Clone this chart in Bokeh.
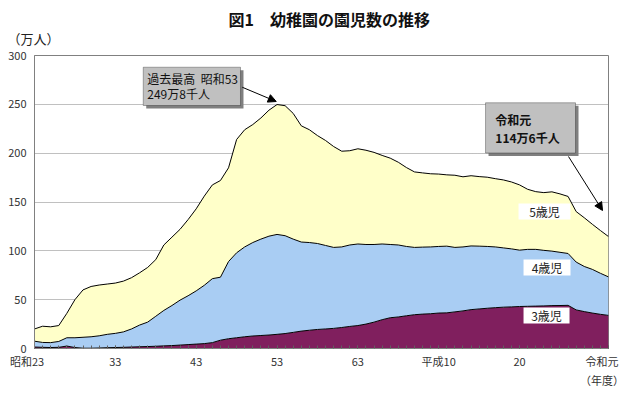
from bokeh.plotting import figure
from bokeh.models import (ColumnDataSource, Range1d, FixedTicker, BoxAnnotation,
                          Label, Arrow, NormalHead, Title)
from bokeh.embed import file_html
from bokeh.resources import INLINE

# ---- data (万人) ----
years = list(range(1948, 2020))
age3 = [1.5, 1.2, 1.0, 1.2, 2.5, 1.0, 0.3, 0.3, 0.5, 0.8,
        1.0, 1.2, 1.5, 1.8, 2.0, 2.3, 2.7, 3.0, 3.5, 4.0,
        4.5, 5.0, 6.0, 8.5, 10.0, 11.0, 12.0, 12.8, 13.3, 13.8,
        14.5, 15.3, 16.5, 17.8, 18.7, 19.5, 20.0, 20.6, 21.5, 22.6,
        23.5, 25.0, 27.0, 29.5, 31.5, 32.3, 33.5, 34.6, 35.2, 35.6,
        36.3, 36.5, 37.5, 38.5, 39.8, 40.5, 41.2, 41.8, 42.3, 42.6,
        43.0, 43.2, 43.4, 43.6, 43.9, 44.0, 44.2, 39.5, 37.8, 36.3,
        35.0, 33.9]
age4 = [6.0, 5.0, 5.0, 6.0, 8.5, 10.0, 11.2, 11.7, 12.5, 13.7,
        14.5, 15.8, 18.5, 22.2, 25.0, 30.7, 36.3, 41.0, 46.0, 50.0,
        54.5, 59.7, 65.5, 64.5, 79.0, 87.0, 92.0, 95.7, 98.7, 101.2,
        102.3, 100.2, 95.5, 91.2, 89.8, 88.0, 85.5, 82.9, 82.5, 83.4,
        83.5, 81.5, 79.5, 77.5, 75.0, 73.7, 71.0, 68.9, 68.6, 68.4,
        68.2, 68.3, 66.0, 65.5, 65.2, 64.3, 63.3, 62.2, 60.7, 59.4,
        57.7, 58.3, 58.1, 56.9, 55.8, 54.5, 53.1, 49.0, 46.2, 44.7,
        42.0, 39.4]
age5 = [12.5, 16.6, 16.2, 16.3, 25.0, 39.0, 48.5, 51.5, 52.0, 51.5,
        51.5, 52.0, 52.5, 53.5, 56.0, 58.0, 67.0, 70.0, 72.5, 78.0,
        84.0, 91.3, 96.0, 99.0, 96.0, 116.0, 120.0, 120.8, 124.0, 129.0,
        133.0, 133.1, 128.7, 119.0, 115.5, 110.5, 107.5, 103.3, 98.0, 96.5,
        97.5, 96.5, 94.3, 90.7, 88.4, 84.7, 80.8, 77.3, 76.0, 74.9,
        74.1, 73.0, 73.9, 71.8, 71.9, 71.2, 70.9, 69.9, 69.6, 68.5,
        66.8, 61.5, 59.1, 59.1, 60.7, 59.8, 58.4, 51.7, 49.9, 46.2,
        43.8, 41.3]
series_names = ["3歳児", "4歳児", "5歳児"]
NB = "\u00a0"
x_tick_years = [1948, 1958, 1968, 1978, 1988, 1998, 2008, 2019]
x_tick_labels = ["昭和23" + NB * 6, "33", "43", "53", "63", "平成10", "20",
                 "令和元" + NB * 3 + "\n（年度）" + NB * 3]
y_ticks = [0, 50, 100, 150, 200, 250, 300]

JP = "Noto Sans CJK JP"

src = ColumnDataSource(dict(year=years, age3=age3, age4=age4, age5=age5))

p = figure(width=631, height=395, output_backend="svg", toolbar_location=None,
           x_range=Range1d(1948, 2019), y_range=Range1d(0, 300),
           min_border_left=34, min_border_right=23, min_border_top=55,
           min_border_bottom=47)
p.outline_line_color = "#808080"
p.background_fill_color = "white"

# titles (above the frame; first added sits nearest the frame)
p.add_layout(Title(text="（万人）", align="left", offset=-27, text_font=JP,
                   text_font_size="13px", text_font_style="normal",
                   text_color="#222222", standoff=15), "above")
title_kw = dict(text="図1　幼稚園の園児数の推移", align="left", offset=194,
                text_font=JP, text_font_size="16px", text_font_style="bold",
                text_color="#111111")
try:
    main_title = Title(standoff=-23, **title_kw)
except Exception:
    main_title = Title(standoff=0, **title_kw)
p.add_layout(main_title, "above")

stack = ["age3", "age4", "age5"]
p.varea_stack(stack, x="year", source=src,
              color=["#801F5E", "#A9CDF3", "#FFFFC9"])
p.vline_stack(stack, x="year", source=src, color="black", line_width=1)

# axes
p.xaxis.ticker = FixedTicker(ticks=x_tick_years, minor_ticks=years)
p.xaxis.major_label_overrides = {y: l for y, l in zip(x_tick_years, x_tick_labels)}
p.xaxis.major_tick_in = 3
p.xaxis.major_tick_out = 0
p.xaxis.minor_tick_in = 3
p.xaxis.minor_tick_out = 0
p.xaxis.axis_line_color = "#808080"
p.xaxis.major_tick_line_color = "#606060"
p.xaxis.minor_tick_line_color = "#606060"
p.xaxis.major_label_text_font = JP
p.xaxis.major_label_text_font_size = "11px"
p.xaxis.major_label_text_color = "#333333"
p.xaxis.major_label_standoff = 4

p.yaxis.ticker = FixedTicker(ticks=y_ticks)
p.yaxis.major_tick_in = 0
p.yaxis.major_tick_out = 0
p.yaxis.minor_tick_in = 0
p.yaxis.minor_tick_out = 0
p.yaxis.axis_line_color = "#808080"
p.yaxis.major_label_text_font = JP
p.yaxis.major_label_text_font_size = "11px"
p.yaxis.major_label_text_color = "#333333"
p.yaxis.major_label_standoff = 8

p.xgrid.visible = False
p.ygrid.ticker = FixedTicker(ticks=y_ticks[1:-1])
p.ygrid.grid_line_color = "#808080"
p.ygrid.grid_line_dash = "1 1"

# callout boxes
dx, dy = 0.37, 3.07
def callout(l, r, t, b):
    p.add_layout(BoxAnnotation(left=l + dx, right=r + dx, top=t - dy, bottom=b - dy,
                               fill_color="#7F7F7F", fill_alpha=1, line_alpha=0))
    p.add_layout(BoxAnnotation(left=l, right=r, top=t, bottom=b,
                               fill_color="#C0C0C0", fill_alpha=1,
                               line_color="black", line_width=1))

callout(1961.45, 1973.48, 288.0, 248.8)
p.add_layout(Label(x=1961.95, y=276.5, text="過去最高" + NB * 2 + "昭和53", text_font=JP,
                   text_font_size="12px", text_baseline="middle", text_color="#111111"))
p.add_layout(Label(x=1961.95, y=261.1, text="249万8千人", text_font=JP,
                   text_font_size="12px", text_baseline="middle", text_color="#111111"))
p.add_layout(Arrow(end=NormalHead(size=8, fill_color="black", line_color="black"),
                   x_start=1973.7, y_start=267.5, x_end=1977.9, y_end=252.9,
                   line_color="black", line_width=1))

callout(2003.79, 2014.92, 251.6, 200.2)
p.add_layout(Label(x=2005.0, y=234.5, text="令和元", text_font=JP,
                   text_font_size="12px", text_font_style="bold",
                   text_baseline="middle", text_color="#111111"))
p.add_layout(Label(x=2005.0, y=216.0, text="114万6千人", text_font=JP,
                   text_font_size="12px", text_font_style="bold",
                   text_baseline="middle", text_color="#111111"))
p.add_layout(Arrow(end=NormalHead(size=8, fill_color="black", line_color="black"),
                   x_start=2014.05, y_start=196.6, x_end=2018.26, y_end=141.3,
                   line_color="black", line_width=1))

# series labels on white boxes
for name, l, r, t, b, cx, cy in [
        (series_names[2], 2007.87, 2014.30, 148.5, 132.1, 2011.08, 140.3),
        (series_names[1], 2008.49, 2014.30, 91.1, 74.7, 2011.39, 82.9),
        (series_names[0], 2008.49, 2014.18, 42.0, 25.6, 2011.33, 33.8)]:
    p.add_layout(BoxAnnotation(left=l, right=r, top=t, bottom=b,
                               fill_color="white", fill_alpha=1, line_alpha=0))
    p.add_layout(Label(x=cx, y=cy, text=name, text_font=JP, text_font_size="12px",
                       text_align="center", text_baseline="middle",
                       text_color="#222222"))

open("out.html", "w").write(file_html(p, INLINE))
